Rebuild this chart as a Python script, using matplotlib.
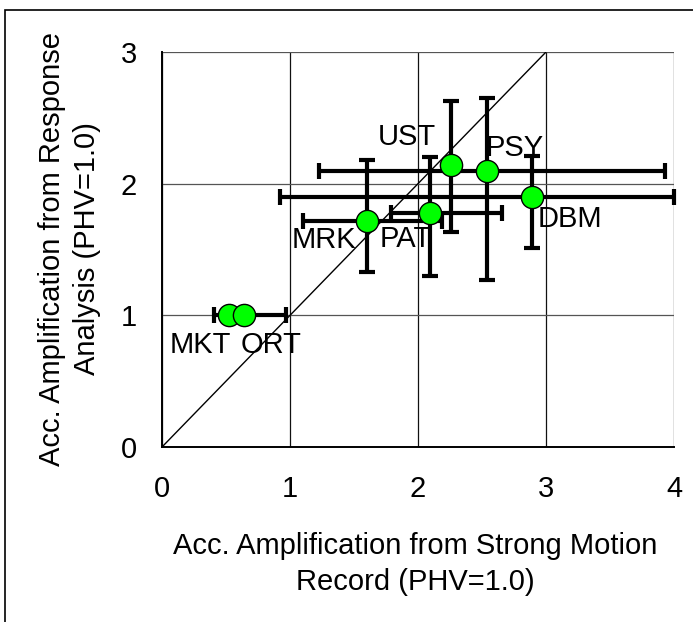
import matplotlib
matplotlib.use("Agg")
import matplotlib.pyplot as plt
from matplotlib.patches import Rectangle
import numpy as np

plt.rcParams['font.family'] = ['Liberation Sans', 'DejaVu Sans']

# Sites and amplification values
sites = ["MKT", "ORT", "MRK", "PAT", "UST", "PSY", "DBM"]
x_record = [0.52, 0.64, 1.60, 2.09, 2.26, 2.54, 2.89]
y_response = [1.00, 1.00, 1.72, 1.78, 2.14, 2.10, 1.90]
x_err_low = [0.11, 0.00, 0.50, 0.30, 0.00, 1.31, 1.97]
x_err_high = [0.00, 0.33, 0.59, 0.57, 0.00, 1.39, 1.11]
y_err_low = [0.00, 0.00, 0.39, 0.48, 0.51, 0.83, 0.39]
y_err_high = [0.00, 0.00, 0.46, 0.42, 0.49, 0.55, 0.31]

# label offsets in pixels (dx, dy) from the marker centre
label_off = {
    "MKT": (-28, -30),
    "ORT": (27, -30),
    "MRK": (-43, -19),
    "PAT": (-24, -26),
    "UST": (-44, 28),
    "PSY": (28, 23),
    "DBM": (38, -22),
}

FS = 21
W, H = 693, 622
fig = plt.figure(figsize=(W / 100, H / 100), dpi=100)

# outer frame
fig.patches.append(Rectangle((5 / W, -0.1), 1.2, 1 - 10 / H + 0.1,
                             transform=fig.transFigure, fill=False,
                             edgecolor="black", linewidth=1.2))

x0, x1 = 162, 674
y0, y1 = 52, 447
ax = fig.add_axes([x0 / W, 1 - y1 / H, (x1 - x0) / W, (y1 - y0) / H])
ax.set_xlim(0, 4)
ax.set_ylim(0, 3)
ax.set_xticks([0, 1, 2, 3, 4])
ax.set_yticks([0, 1, 2, 3])
ax.xaxis.grid(True, color="#111111", linewidth=0.9)
ax.yaxis.grid(True, color="#555555", linewidth=0.9)
ax.set_axisbelow(True)
for side in ["right", "top"]:
    ax.spines[side].set_visible(False)
for side in ["left", "bottom"]:
    ax.spines[side].set_linewidth(1.4)
ax.tick_params(axis="both", length=0, labelsize=FS)
ax.tick_params(axis="x", pad=20)
ax.tick_params(axis="y", pad=18)

# 1:1 reference line
ax.plot([0, 3], [0, 3], color="black", linewidth=1.0, zorder=2)

xerr = np.array([x_err_low, x_err_high])
yerr = np.array([y_err_low, y_err_high])
ax.errorbar(x_record, y_response, xerr=xerr, yerr=yerr, fmt="none",
            ecolor="black", elinewidth=3, capsize=6, capthick=3,
            zorder=3, clip_on=False)
ax.plot(x_record, y_response, "o", markersize=16, markerfacecolor="#00ff00",
        markeredgecolor="black", markeredgewidth=1.0, zorder=4,
        linestyle="none")

for s, xv, yv in zip(sites, x_record, y_response):
    dx, dy = label_off[s]
    ax.annotate(s, (xv, yv), xytext=(dx, dy), textcoords="offset pixels",
                ha="center", va="center", fontsize=FS, zorder=5)

fig.text(415 / W, 1 - 546 / H, "Acc. Amplification from Strong Motion",
         ha="center", va="center", fontsize=FS)
fig.text(415 / W, 1 - 582 / H, "Record (PHV=1.0)",
         ha="center", va="center", fontsize=FS)
fig.text(52 / W, 1 - 249 / H, "Acc. Amplification from Response",
         ha="center", va="center", fontsize=FS, rotation=90)
fig.text(87 / W, 1 - 249 / H, "Analysis (PHV=1.0)",
         ha="center", va="center", fontsize=FS, rotation=90)

fig.savefig("out.png", dpi=100)
